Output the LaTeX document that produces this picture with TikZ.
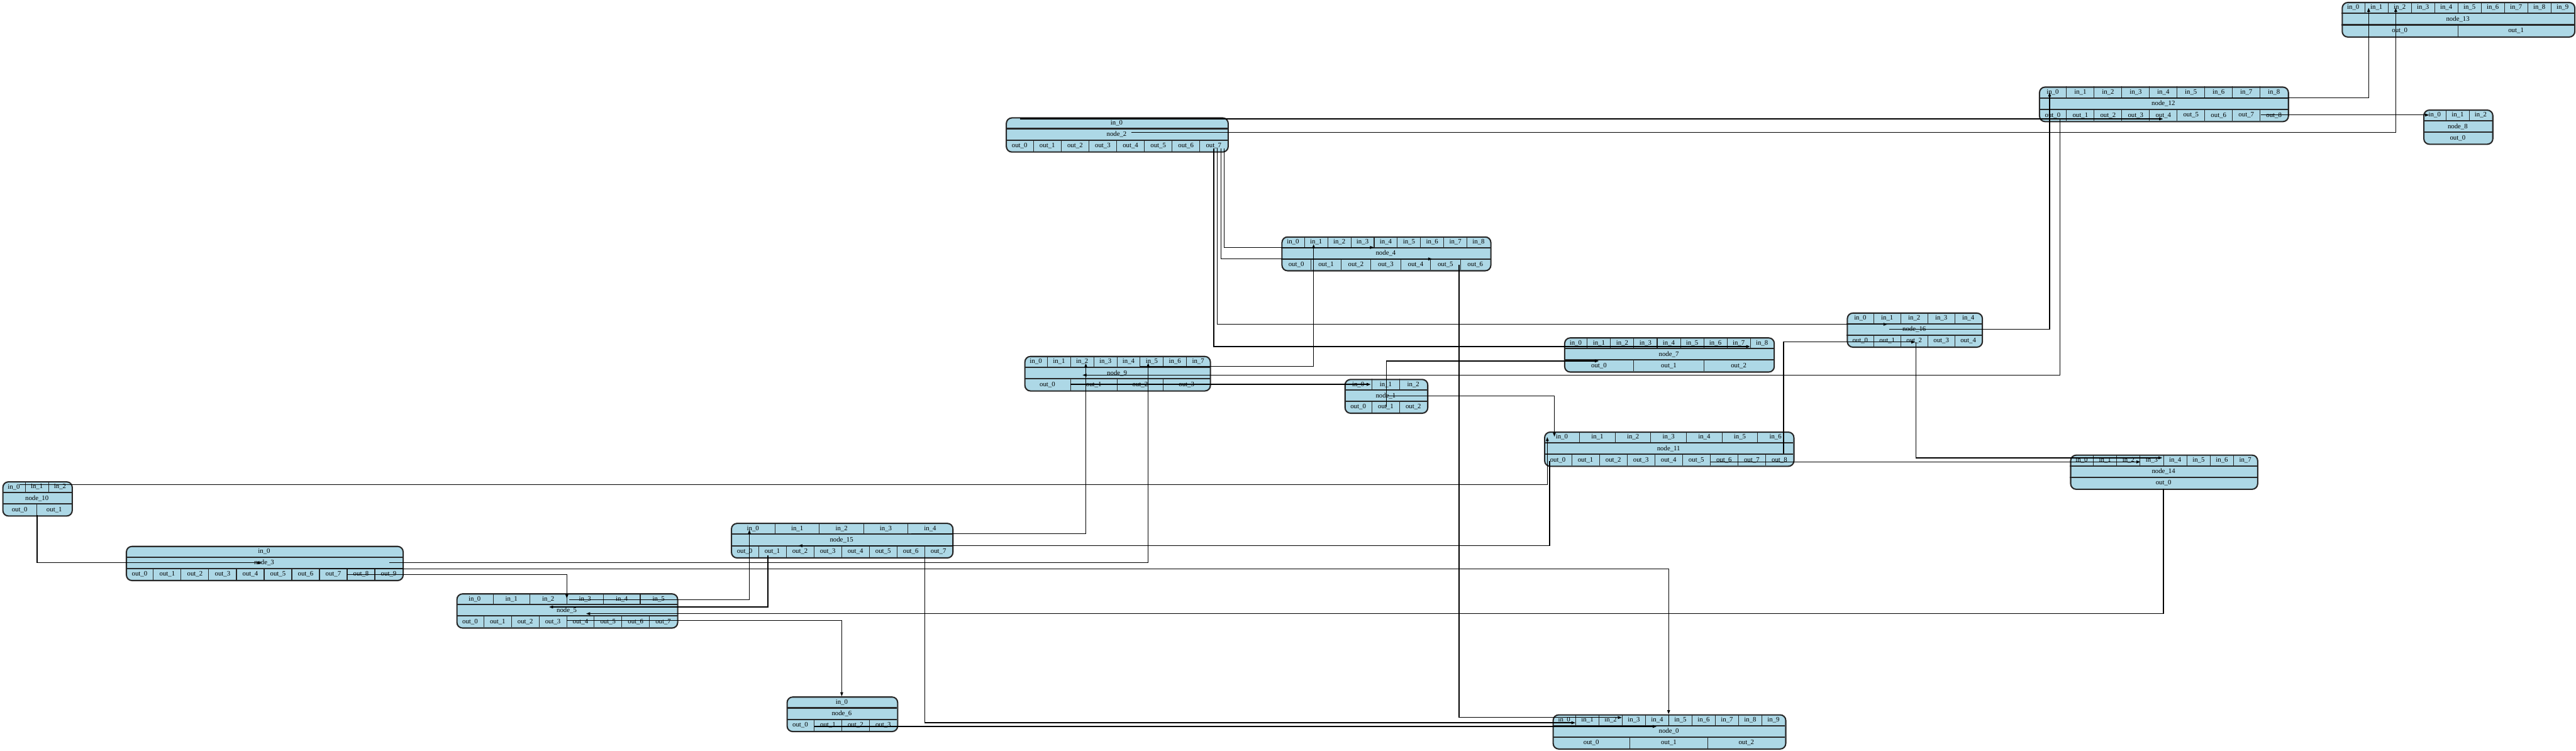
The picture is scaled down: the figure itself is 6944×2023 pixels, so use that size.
\documentclass[tikz,border=0pt]{standalone}
\usepackage{fontspec}
\setmainfont{Liberation Serif}
\usetikzlibrary{arrows.meta}
\definecolor{recfill}{RGB}{173,216,230}
\definecolor{recline}{RGB}{40,40,40}
\tikzset{
  recbox/.style={draw=recline, line width=1pt, fill=recfill, rounded corners=0.15cm},
  rowline/.style={draw=recline, line width=1pt},
  cellline/.style={draw=recline, line width=0.5pt},
  celltext/.style={font=\fontsize{5.2}{6}\selectfont, inner sep=0pt},
  edge/.style={draw=black, line width=0.6pt, -{Triangle[length=0.11cm,width=0.075cm]}},
  plainedge/.style={draw=black, line width=0.6pt},
}
% #1 name, #2 label, #3 x1, #4 x2, #5 ytop, #6 ybot, #7 number of in cells, #8 number of out cells
\newcommand\recnode[8]{%
  \pgfmathsetmacro\rw{(#4-#3)*0.01}%
  \pgfmathsetmacro\rhh{(#6-#5)*0.01}%
  \node[recbox, minimum width=\rw cm, minimum height=\rhh cm, inner sep=0pt, anchor=north west] (#1) at (#3,#5) {};
  \pgfmathsetmacro\ya{#5+(#6-#5)/3}%
  \pgfmathsetmacro\yb{#5+2*(#6-#5)/3}%
  \draw[rowline] (#3,\ya) -- (#4,\ya) (#3,\yb) -- (#4,\yb);
  \node[celltext] at ({(#3+#4)/2},{(\ya+\yb)/2}) {#2};
  \pgfmathtruncatemacro\nma{#7-1}%
  \foreach \k in {0,...,\nma} {
    \pgfmathsetmacro\cx{#3+(\k+0.5)*(#4-#3)/#7}
    \node[celltext] at (\cx,{(#5+\ya)/2}) {in\_\k};
    \ifnum\k>0
      \pgfmathsetmacro\vx{#3+\k*(#4-#3)/#7}
      \draw[cellline] (\vx,#5) -- (\vx,\ya);
    \fi
  }
  \pgfmathtruncatemacro\nmb{#8-1}%
  \foreach \k in {0,...,\nmb} {
    \pgfmathsetmacro\cx{#3+(\k+0.5)*(#4-#3)/#8}
    \node[celltext] at (\cx,{(\yb+#6)/2}) {out\_\k};
    \ifnum\k>0
      \pgfmathsetmacro\vx{#3+\k*(#4-#3)/#8}
      \draw[cellline] (\vx,\yb) -- (\vx,#6);
    \fi
  }
}
\begin{document}
\begin{tikzpicture}[x=0.01cm,y=-0.01cm]
\useasboundingbox[fill=white] (0,0) rectangle (6944,2023);
% nodes
\recnode{n13}{node\_13}{6312}{6939}{5}{98}{10}{2}
\recnode{n12}{node\_12}{5496}{6167}{233}{326}{9}{9}
\recnode{n8}{node\_8}{6532}{6718}{295}{387}{3}{1}
\recnode{n2}{node\_2}{2711}{3309}{316}{408}{1}{8}
\recnode{n4}{node\_4}{3454}{4017}{637}{728}{9}{7}
\recnode{n16}{node\_16}{4978}{5342}{842}{934}{5}{5}
\recnode{n7}{node\_7}{4216}{4781}{909}{1001}{9}{3}
\recnode{n9}{node\_9}{2761}{3261}{959}{1052}{8}{4}
\recnode{n1}{node\_1}{3624}{3847}{1021}{1112}{3}{3}
\recnode{n11}{node\_11}{4162}{4834}{1163}{1255}{7}{9}
\recnode{n14}{node\_14}{5580}{6084}{1225}{1317}{8}{1}
\recnode{n10}{node\_10}{6}{193}{1297}{1389}{3}{2}
\recnode{n3}{node\_3}{339}{1085}{1471}{1563}{1}{10}
\recnode{n15}{node\_15}{1970}{2567}{1409}{1502}{5}{8}
\recnode{n5}{node\_5}{1230}{1825}{1599}{1691}{6}{8}
\recnode{n6}{node\_6}{2120}{2418}{1877}{1970}{1}{4}
\recnode{n0}{node\_0}{4185}{4812}{1925}{2017}{10}{3}
% edges
\draw[edge] (5683,263) -- (6385,263) -- (6385,21);
\draw[edge] (3049,357) -- (6458,357) -- (6458,21);
\draw[edge] (2749,320.5) -- (5831,320.5);
\draw[edge] (6094,310) -- (6548,310);
\draw[edge] (5092,888) -- (5525,888) -- (5525,249);
\draw[edge] (5553,320) -- (5553,1011) -- (2918,1011);
\draw[edge] (3300,400) -- (3300,667) -- (3704,667);
\draw[edge] (3291,400) -- (3291,698) -- (3861,698);
\draw[edge] (3281,400) -- (3281,874) -- (5088,874);
\draw[edge] (3272,400) -- (3272,934) -- (4718,934);
\draw[edge] (3073,987) -- (3541,987) -- (3541,658);
\draw[edge] (2885,1036) -- (3695,1036);
\draw[edge] (3737,1097) -- (3737,973) -- (4310,973);
\draw[edge] (3737,1067) -- (4190,1067) -- (4190,1177);
\draw[edge] (53,1306) -- (4171,1306) -- (4171,1178);
\draw[edge] (4808,1223) -- (4808,922) -- (5163,922);
\draw[edge] (5165,922) -- (5165,1234) -- (5829,1234);
\draw[edge] (4611,1245) -- (5770,1245);
\draw[edge] (4177,1243) -- (4177,1471) -- (2152,1471);
\draw[edge] (5832,1317) -- (5832,1654) -- (1580,1654);
\draw[edge] (1535,1617) -- (2020,1617) -- (2020,1428);
\draw[edge] (2070,1497) -- (2070,1636) -- (1480,1636);
\draw[edge] (1528,1673) -- (2269,1673) -- (2269,1877);
\draw[edge] (936,1548) -- (1528,1548) -- (1528,1613);
\draw[edge] (2456,1439) -- (2927,1439) -- (2927,979);
\draw[edge] (1049,1517) -- (3095,1517) -- (3095,978);
\draw[edge] (863,1533) -- (4498,1533) -- (4498,1925);
\draw[plainedge] (4498,1925) -- (4498,1955);
\draw[edge] (100,1389) -- (100,1517) -- (705,1517);
\draw[edge] (2195,1958) -- (4466,1958);
\draw[edge] (2493,1500) -- (2493,1948) -- (4247,1948);
\draw[edge] (3933,713) -- (3933,1934) -- (4372,1934);
\end{tikzpicture}
\end{document}
